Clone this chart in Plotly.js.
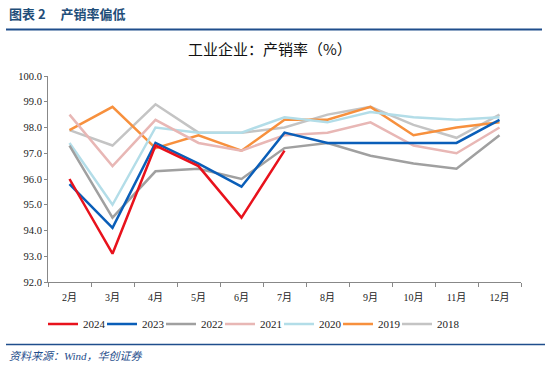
<!DOCTYPE html>
<html>
<head>
<meta charset="utf-8">
<script src="https://cdn.plot.ly/plotly-3.0.1.min.js"></script>
<style>html,body{margin:0;padding:0;background:#fff;}#chart{width:550px;height:365px;}</style>
</head>
<body>
<div id="chart"></div>
<script>
const months = ["2月","3月","4月","5月","6月","7月","8月","9月","10月","11月","12月"];
const y2024 = [96.0, 93.1, 97.3, 96.5, 94.5, 97.1];
const y2023 = [95.8, 94.1, 97.4, 96.6, 95.7, 97.8, 97.4, 97.4, 97.4, 97.4, 98.3];
const y2022 = [97.3, 94.5, 96.3, 96.4, 96.0, 97.2, 97.4, 96.9, 96.6, 96.4, 97.7];
const y2021 = [98.5, 96.5, 98.3, 97.4, 97.1, 97.7, 97.8, 98.2, 97.3, 97.0, 98.0];
const y2020 = [97.4, 95.0, 98.0, 97.8, 97.8, 98.4, 98.2, 98.6, 98.4, 98.3, 98.4];
const y2019 = [97.9, 98.8, 97.2, 97.7, 97.1, 98.3, 98.3, 98.8, 97.7, 98.0, 98.2];
const y2018 = [97.9, 97.3, 98.9, 97.8, 97.8, 98.0, 98.5, 98.8, 98.1, 97.6, 98.5];
const yTicks = [92, 93, 94, 95, 96, 97, 98, 99, 100];

const L = 48, R = 29, T = 76, B = 83, W = 550, H = 365;
const pw = W - L - R, ph = H - T - B;
const px = v => (v - L) / pw;
const py = v => (H - B - v) / ph;

const series = [
  {name: "2024", y: y2024, color: "#E8121C"},
  {name: "2023", y: y2023, color: "#0A5EB8"},
  {name: "2022", y: y2022, color: "#A0A0A0"},
  {name: "2021", y: y2021, color: "#E8B7B5"},
  {name: "2020", y: y2020, color: "#B3DDE8"},
  {name: "2019", y: y2019, color: "#F7903D"},
  {name: "2018", y: y2018, color: "#C4C4C4"}
];
const traces = series.slice().reverse().map(s => ({
  type: "scatter", mode: "lines", name: s.name,
  x: months.slice(0, s.y.length), y: s.y,
  line: {color: s.color, width: 2.5}
}));
// invisible spacer so the last legend label is not clipped
traces.unshift({type: "scatter", mode: "lines", name: "", x: [months[0]], y: [null],
  line: {color: "rgba(0,0,0,0)", width: 0}, hoverinfo: "skip"});

const serif = "Liberation Serif, Times New Roman, Noto Sans CJK SC, serif";
const layout = {
  width: W, height: H,
  margin: {l: L, r: R, t: T, b: B},
  paper_bgcolor: "#fff", plot_bgcolor: "#fff",
  showlegend: true,
  legend: {orientation: "h", x: px(43), xanchor: "left", y: py(324), yanchor: "middle",
           font: {family: serif, size: 11, color: "#222"}, itemwidth: 30, traceorder: "reversed",
           entrywidth: 14, entrywidthmode: "pixels", bgcolor: "rgba(0,0,0,0)"},
  xaxis: {type: "category", range: [-0.5, 10.5], showgrid: false, zeroline: false, showline: true, linecolor: "#888", linewidth: 1,
          ticks: "outside", tickson: "boundaries", ticklen: 4, tickcolor: "#888", ticklabelstandoff: 6,
          tickfont: {family: serif, size: 10, color: "#222"}, fixedrange: true},
  yaxis: {range: [92, 100], tickvals: yTicks, ticktext: yTicks.map(v => v.toFixed(1)),
          showgrid: false, zeroline: false, showline: true, linecolor: "#888", linewidth: 1,
          ticks: "outside", ticklen: 3, tickcolor: "#888",
          tickfont: {family: serif, size: 10.5, color: "#222"}, fixedrange: true},
  shapes: [
    {type: "line", xref: "paper", yref: "paper", x0: px(6), x1: px(542), y0: py(29.5), y1: py(29.5),
     line: {color: "#1F4E8C", width: 2}},
    {type: "line", xref: "paper", yref: "paper", x0: px(6), x1: px(545), y0: py(344.5), y1: py(344.5),
     line: {color: "#1F4E8C", width: 1.5}}
  ],
  annotations: [
    {xref: "paper", yref: "paper", x: px(7), y: py(14), xanchor: "left", yanchor: "middle", showarrow: false,
     text: "<b>图表 2&nbsp;&nbsp;&nbsp;&nbsp;&nbsp;产销率偏低</b>", font: {family: "Noto Sans CJK SC", size: 13, color: "#1F4E79"}},
    {xref: "paper", yref: "paper", x: px(270), y: py(48), xanchor: "center", yanchor: "middle", showarrow: false,
     text: "工业企业：产销率（%）", font: {family: "Noto Sans CJK SC", size: 15, color: "#111"}},
    {xref: "paper", yref: "paper", x: px(7), y: py(356), xanchor: "left", yanchor: "middle", showarrow: false,
     text: "<i>资料来源：Wind，华创证券</i>", font: {family: "Liberation Serif, Noto Sans CJK SC", size: 11, color: "#1F4E8C"}}
  ]
};
Plotly.newPlot("chart", traces, layout, {displayModeBar: false, staticPlot: true});
</script>
</body>
</html>
